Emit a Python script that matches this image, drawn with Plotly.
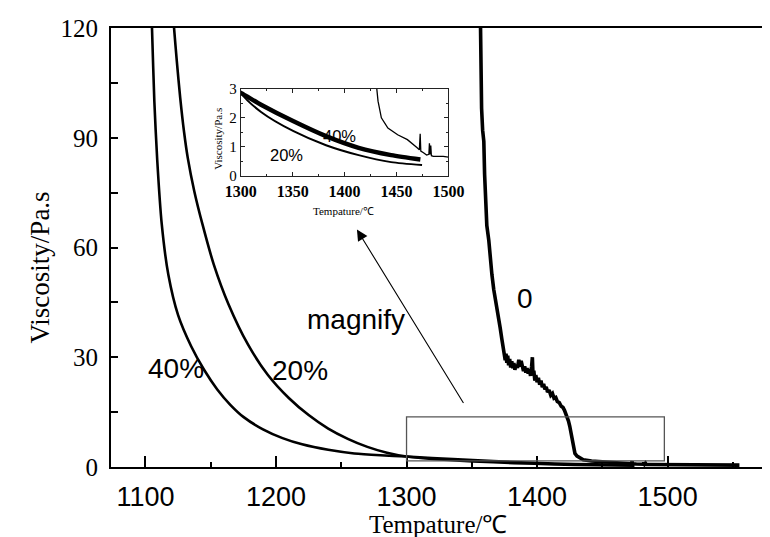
import plotly.graph_objects as go

# ---------------- data ----------------
temp_40 = [1104.3, 1105.0, 1106.8, 1109.0, 1112.5, 1117.5, 1125.0, 1135.0, 1145.0, 1155.0,
           1165.0, 1175.0, 1190.0, 1205.0, 1220.0, 1240.0, 1260.0, 1280.0, 1300.0, 1319.5,
           1350.8, 1382.1, 1413.5, 1444.8, 1473.0]
visc_40 = [128, 120, 100, 84, 66.3, 52.6, 41.5, 33.0, 26.5, 21.2,
           17.0, 13.7, 10.3, 7.9, 6.2, 4.7, 3.7, 3.2, 2.85, 2.45,
           1.88, 1.37, 0.97, 0.72, 0.57]

temp_20 = [1120.8, 1121.9, 1124.0, 1126.6, 1129.6, 1132.4, 1137.4, 1143.7, 1152.3, 1163.6,
           1178.5, 1193.5, 1210.0, 1225.0, 1240.0, 1255.0, 1270.0, 1285.0, 1300.0, 1319.5,
           1350.8, 1382.1, 1413.5, 1444.8, 1474.6]
visc_20 = [125, 120, 111, 101, 91.5, 84.5, 75.4, 66.3, 55.4, 44.5,
           33.5, 25.3, 18.8, 14.2, 10.5, 7.7, 5.5, 3.9, 2.85, 2.2,
           1.54, 1.06, 0.72, 0.48, 0.38]

temp_0 = [1356.5, 1357.0, 1357.5, 1358.3, 1359.2, 1359.8, 1360.5, 1361.5, 1363.0, 1364.0,
          1365.4, 1366.8, 1368.4, 1370.0, 1371.7, 1373.0, 1374.2, 1375.0, 1375.6, 1376.2,
          1376.8, 1377.5, 1378.2, 1379.0, 1379.8, 1380.6, 1381.4, 1382.2, 1383.0, 1384.0,
          1385.0, 1386.0, 1387.0, 1387.8, 1388.8, 1389.6, 1390.5, 1391.4, 1392.3, 1393.2,
          1394.0, 1395.0, 1395.8, 1396.4, 1396.9, 1397.5, 1398.3, 1399.0, 1400.0, 1401.0,
          1402.0, 1403.0, 1404.0, 1405.0, 1406.0, 1407.0, 1408.0, 1409.2, 1410.5, 1411.8,
          1413.0, 1414.3, 1415.5, 1417.0, 1418.5, 1419.8, 1421.0, 1422.0, 1423.0, 1424.0,
          1425.0, 1426.0, 1427.0, 1428.0, 1429.0, 1430.6, 1432.2, 1435.4, 1441.7, 1451.1,
          1460.5, 1469.9, 1472.0, 1472.8, 1473.4, 1476.0, 1479.0, 1481.2, 1481.7, 1482.3,
          1483.0, 1483.6, 1485.5, 1495.0, 1500.0, 1520.0, 1540.0, 1555.0]
visc_0 = [125, 110, 98, 92, 89, 80, 71, 66, 62, 57,
          52.6, 48.5, 45.4, 41.5, 38.1, 35.0, 32.6, 31.2, 29.2, 31.0,
          28.5, 30.4, 27.8, 29.5, 27.2, 28.9, 27.0, 28.4, 26.6, 28.0,
          27.1, 29.3, 27.4, 29.0, 27.6, 26.2, 27.5, 25.8, 27.0, 25.5,
          26.8, 24.9, 27.5, 30.0, 25.0, 26.3, 23.6, 25.1, 23.2, 24.4,
          22.5, 23.6, 21.8, 22.7, 21.2, 21.9, 20.5, 21.0, 19.6, 20.1,
          18.8, 19.0, 17.9, 17.6, 16.6, 16.3, 15.5, 14.6, 13.7, 12.6,
          11.2, 9.0, 6.6, 4.8, 3.7, 3.0, 2.57, 2.0, 1.65, 1.42,
          1.25, 0.97, 0.9, 1.45, 0.86, 0.8, 0.72, 0.75, 1.13, 0.74,
          1.05, 0.7, 0.68, 0.68, 0.65, 0.6, 0.55, 0.5]

main_x_ticks = [1100, 1200, 1300, 1400, 1500]
main_x_minor = [1150, 1250, 1350, 1450, 1550]
main_y_ticks = [0, 30, 60, 90, 120]
main_y_minor = [15, 45, 75, 105]
inset_x_ticks = [1300, 1350, 1400, 1450, 1500]
inset_x_minor = [1325, 1375, 1425, 1475]
inset_y_ticks = [0, 1, 2, 3]
inset_y_minor = [0.5, 1.5, 2.5]

SANS = "Liberation Sans, Arial, sans-serif"
SERIF = "Liberation Serif, Times New Roman, serif"

fig = go.Figure()

# main curves
fig.add_trace(go.Scatter(x=temp_40, y=visc_40, mode="lines", xaxis="x", yaxis="y",
                         line=dict(color="black", width=2.6, shape="spline", smoothing=0.7),
                         showlegend=False))
fig.add_trace(go.Scatter(x=temp_20, y=visc_20, mode="lines", xaxis="x", yaxis="y",
                         line=dict(color="black", width=2.6, shape="spline", smoothing=0.7),
                         showlegend=False))
fig.add_trace(go.Scatter(x=temp_0, y=visc_0, mode="lines", xaxis="x", yaxis="y",
                         line=dict(color="black", width=3.6), showlegend=False))

# inset curves
fig.add_trace(go.Scatter(x=temp_40, y=visc_40, mode="lines", xaxis="x2", yaxis="y2",
                         line=dict(color="black", width=4.5, shape="spline", smoothing=0.7),
                         showlegend=False))
fig.add_trace(go.Scatter(x=temp_20, y=visc_20, mode="lines", xaxis="x2", yaxis="y2",
                         line=dict(color="black", width=2, shape="spline", smoothing=0.7),
                         showlegend=False))
fig.add_trace(go.Scatter(x=temp_0, y=visc_0, mode="lines", xaxis="x2", yaxis="y2",
                         line=dict(color="black", width=1.3), showlegend=False))

fig.update_layout(
    width=770, height=537,
    margin=dict(l=103, r=0, t=20, b=77.5),
    paper_bgcolor="white", plot_bgcolor="white",
    showlegend=False,
    xaxis=dict(domain=[0, 1], range=[1073.6, 1572.3], tickvals=main_x_ticks,
               ticks="inside", ticklen=11, tickwidth=2, tickcolor="black",
               showline=True, linewidth=2, linecolor="black", mirror=True,
               showgrid=False, zeroline=False,
               minor=dict(tickvals=main_x_minor, ticks="inside", ticklen=5, tickwidth=2,
                          tickcolor="black", showgrid=False),
               tickfont=dict(family=SANS, size=27, color="black"), ticklabelstandoff=5),
    yaxis=dict(domain=[0, 1], range=[0, 120], tickvals=main_y_ticks,
               ticks="inside", ticklen=7, tickwidth=2, tickcolor="black",
               showline=True, linewidth=2, linecolor="black",
               showgrid=False, zeroline=False,
               minor=dict(tickvals=main_y_minor, ticks="inside", ticklen=7, tickwidth=2,
                          tickcolor="black", showgrid=False),
               tickfont=dict(family=SERIF, size=25, color="black"), ticklabelstandoff=6),
    xaxis2=dict(domain=[0.1994, 0.5183], anchor="y2", range=[1300, 1500],
                tickvals=inset_x_ticks, ticks="inside", ticklen=4, tickwidth=1,
                tickcolor="#222", showline=True, linewidth=1, linecolor="#222",
                mirror="allticks", showgrid=False, zeroline=False,
                minor=dict(tickvals=inset_x_minor, ticks="inside", ticklen=2, tickwidth=1,
                           tickcolor="#222", showgrid=False),
                tickfont=dict(family=SERIF, size=16, color="black", weight="bold"),
                ticklabelstandoff=1),
    yaxis2=dict(domain=[0.6626, 0.8619], anchor="x2", range=[0, 3],
                tickvals=inset_y_ticks, ticks="inside", ticklen=4, tickwidth=1,
                tickcolor="#222", showline=True, linewidth=1, linecolor="#222",
                mirror="allticks", showgrid=False, zeroline=False,
                minor=dict(tickvals=inset_y_minor, ticks="inside", ticklen=2, tickwidth=1,
                           tickcolor="#222", showgrid=False),
                tickfont=dict(family=SERIF, size=15, color="black"),
                ticklabelstandoff=0),
)

# zoom rectangle
fig.add_shape(type="rect", xref="x", yref="y", x0=1300, x1=1497.5, y0=1.7, y1=13.7,
              line=dict(color="#555", width=1.3))

ann = []
# axis titles
ann.append(dict(text="Viscosity/Pa.s", xref="paper", yref="paper", x=-0.1094, y=0.4539,
                textangle=-90, showarrow=False, font=dict(family=SERIF, size=27, color="black"),
                xanchor="center", yanchor="middle"))
ann.append(dict(text="Tempature/℃", xref="paper", yref="paper", x=0.5022, y=-0.1305,
                showarrow=False, font=dict(family=SERIF, size=25, color="black"),
                xanchor="center", yanchor="middle"))
ann.append(dict(text="Viscosity/Pa.s", xref="paper", yref="paper", x=0.1646, y=0.7479,
                textangle=-90, showarrow=False, font=dict(family=SERIF, size=11, color="black"),
                xanchor="center", yanchor="middle"))
ann.append(dict(text="Tempature/℃", xref="paper", yref="paper", x=0.3579, y=0.5836,
                showarrow=False, font=dict(family=SERIF, size=11, color="black"),
                xanchor="center", yanchor="middle"))
# curve labels (main)
for txt, xx, yy in [("40%", 1123.4, 26.8), ("20%", 1218.4, 26.5),
                    ("magnify", 1261.4, 40.2), ("0", 1390.4, 46.1)]:
    ann.append(dict(text=txt, xref="x", yref="y", x=xx, y=yy, showarrow=False,
                    font=dict(family=SANS, size=28, color="black"),
                    xanchor="center", yanchor="middle"))
# curve labels (inset)
for txt, xx, yy in [("40%", 1395.4, 1.39), ("20%", 1344.4, 0.74)]:
    ann.append(dict(text=txt, xref="x2", yref="y2", x=xx, y=yy, showarrow=False,
                    font=dict(family=SANS, size=16.5, color="black"),
                    xanchor="center", yanchor="middle"))
# arrow
ann.append(dict(text="", xref="x", yref="y", x=1262, y=64.9, axref="x", ayref="y",
                ax=1344.3, ay=17.1, showarrow=True, arrowhead=2, arrowsize=2,
                arrowwidth=1.1, arrowcolor="black", standoff=0))
fig.update_layout(annotations=ann)

fig.write_html("out.html")
